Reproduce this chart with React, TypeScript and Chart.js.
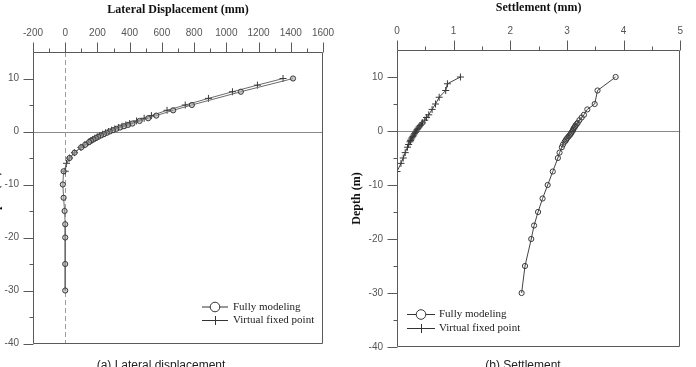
import React, { useEffect, useRef } from 'react';
import { Chart, registerables } from 'chart.js';

Chart.register(...registerables);

// ---------- data ----------
const fullDepths = [10, 7.5, 5, 4, 3, 2.5, 2, 1.5, 1.25, 1, 0.75, 0.5, 0.25, 0, -0.25, -0.5, -0.75, -1, -1.25, -1.5, -1.75, -2, -2.5, -3, -4, -5, -7.5, -10, -12.5, -15, -17.5, -20, -25, -30];
const virtualDepths = [10, 8.75, 7.5, 6.25, 5, 4, 3, 2.5, 2, 1.5, 1.25, 1, 0.75, 0.5, 0.25, 0, -0.25, -0.5, -0.75, -1, -1.25, -1.5, -1.75, -2, -2.5, -3, -4, -5, -6, -7.5];

const lateralFull = [1414, 1090, 786, 670, 565, 515, 462, 417, 390, 365, 340, 317, 296, 276, 258, 240, 222, 205, 190, 175, 160, 148, 124, 99, 58, 27, -10, -15, -10, -4, 0, 0, 0, 0];
const lateralVirtual = [1352, 1193, 1038, 889, 745, 632, 535, 490, 443, 400, 376, 352, 330, 308, 288, 268, 250, 232, 215, 199, 184, 170, 157, 145, 121, 97, 57, 27, 8, 0];

const settleFull = [3.86, 3.54, 3.49, 3.36, 3.3, 3.26, 3.22, 3.19, 3.17, 3.15, 3.14, 3.12, 3.11, 3.1, 3.08, 3.07, 3.05, 3.03, 3.01, 2.99, 2.98, 2.96, 2.93, 2.91, 2.87, 2.84, 2.75, 2.66, 2.57, 2.49, 2.42, 2.37, 2.26, 2.2];
const settleVirtual = [1.12, 0.89, 0.86, 0.745, 0.68, 0.62, 0.56, 0.52, 0.49, 0.45, 0.43, 0.41, 0.39, 0.37, 0.355, 0.34, 0.325, 0.31, 0.295, 0.28, 0.265, 0.25, 0.24, 0.23, 0.205, 0.185, 0.145, 0.11, 0.07, 0.0];

const seriesLabels = ['Fully modeling', 'Virtual fixed point'];

const lateralTicks = [-200, 0, 200, 400, 600, 800, 1000, 1200, 1400, 1600];
const lateralMinor = [-100, 100, 300, 500, 700, 900, 1100, 1300, 1500];
const settleTicks = [0, 1, 2, 3, 4, 5];
const settleMinor = [0.5, 1.5, 2.5, 3.5, 4.5];
const depthTicks = [10, 0, -10, -20, -30, -40];
const depthMinor = [5, -5, -15, -25, -35];

const SANS = '"Liberation Sans", Arial, Helvetica, sans-serif';
const SERIF = '"Liberation Serif", "Times New Roman", Times, serif';

type Decor = {
  xMajor: number[];
  xMinor: number[];
  yMajor: number[];
  yMinor: number[];
  dashedZero: boolean;
  legend: { x0: number; x1: number; y1: number; y2: number; tx: number; r: number };
};

function makeDecor(o: Decor) {
  return {
    id: 'decor',
    beforeDatasetsDraw(chart: any) {
      const { ctx, chartArea: a, scales } = chart;
      const xs = scales.x;
      const ys = scales.y;
      ctx.save();
      ctx.lineWidth = 1;
      ctx.strokeStyle = '#8a8a8a';
      const y0 = Math.round(ys.getPixelForValue(0)) + 0.5;
      ctx.beginPath();
      ctx.moveTo(a.left, y0);
      ctx.lineTo(a.right, y0);
      ctx.stroke();
      if (o.dashedZero) {
        const x0 = Math.round(xs.getPixelForValue(0)) + 0.5;
        ctx.strokeStyle = '#9a9a9a';
        ctx.setLineDash([5, 3]);
        ctx.beginPath();
        ctx.moveTo(x0, a.top);
        ctx.lineTo(x0, a.bottom);
        ctx.stroke();
        ctx.setLineDash([]);
      }
      ctx.restore();
    },
    afterDraw(chart: any) {
      const { ctx, chartArea: a, scales } = chart;
      const xs = scales.x;
      const ys = scales.y;
      ctx.save();
      ctx.lineWidth = 1;
      ctx.strokeStyle = '#5a5a5a';
      // frame
      const L = Math.round(a.left) + 0.5;
      const R = Math.round(a.right) - 0.5;
      const T = Math.round(a.top) + 0.5;
      const B = Math.round(a.bottom) - 0.5;
      ctx.beginPath();
      ctx.moveTo(L, T);
      ctx.lineTo(R, T);
      ctx.lineTo(R, B);
      ctx.lineTo(L, B);
      ctx.closePath();
      ctx.stroke();
      // top ticks
      ctx.beginPath();
      o.xMajor.forEach((v) => {
        const p = Math.round(xs.getPixelForValue(v)) + 0.5;
        ctx.moveTo(p, T);
        ctx.lineTo(p, T - 10);
      });
      o.xMinor.forEach((v) => {
        const p = Math.round(xs.getPixelForValue(v)) + 0.5;
        ctx.moveTo(p, T);
        ctx.lineTo(p, T - 4);
      });
      // left ticks
      o.yMajor.forEach((v) => {
        const p = Math.round(ys.getPixelForValue(v)) + 0.5;
        ctx.moveTo(L, p);
        ctx.lineTo(L - 10, p);
      });
      o.yMinor.forEach((v) => {
        const p = Math.round(ys.getPixelForValue(v)) + 0.5;
        ctx.moveTo(L, p);
        ctx.lineTo(L - 4, p);
      });
      ctx.stroke();

      // legend
      const lg = o.legend;
      const mid = (lg.x0 + lg.x1) / 2;
      ctx.strokeStyle = '#333';
      ctx.beginPath();
      ctx.moveTo(lg.x0, lg.y1 + 0.5);
      ctx.lineTo(lg.x1, lg.y1 + 0.5);
      ctx.moveTo(lg.x0, lg.y2 + 0.5);
      ctx.lineTo(lg.x1, lg.y2 + 0.5);
      ctx.stroke();
      ctx.fillStyle = '#ffffff';
      ctx.beginPath();
      ctx.arc(mid, lg.y1 + 0.5, lg.r, 0, Math.PI * 2);
      ctx.fill();
      ctx.stroke();
      ctx.beginPath();
      ctx.moveTo(mid + 0.5, lg.y2 - 4);
      ctx.lineTo(mid + 0.5, lg.y2 + 5);
      ctx.stroke();
      ctx.fillStyle = '#222';
      ctx.font = '11px ' + SERIF;
      ctx.textBaseline = 'middle';
      ctx.textAlign = 'left';
      const ds = chart.data.datasets;
      ctx.fillText(ds[0].label, lg.tx, lg.y1 + 0.5);
      ctx.fillText(ds[1].label, lg.tx, lg.y2 + 0.5);
      ctx.restore();
    },
  };
}

type ChartSpec = {
  width: number;
  xTitle: string;
  xMin: number;
  xMax: number;
  xTicks: number[];
  plotTop: number;
  plotBottom: number;
  plotRight: number;
  xTitlePad: number;
  yTitlePad: number;
  full: number[];
  virtual: number[];
  fullColor: string;
  fullFill: string;
  decor: Decor;
};

function buildConfig(s: ChartSpec): any {
  const tickFont = { family: SANS, size: 10 };
  return {
    type: 'scatter',
    data: {
      datasets: [
        {
          label: seriesLabels[0],
          data: fullDepths.map((d, i) => ({ x: s.full[i], y: d })),
          showLine: true,
          borderColor: s.fullColor,
          borderWidth: 1,
          pointStyle: 'circle',
          pointRadius: 2.6,
          pointBorderWidth: 1,
          pointBorderColor: '#3a3a3a',
          pointBackgroundColor: s.fullFill,
          tension: 0,
        },
        {
          label: seriesLabels[1],
          data: virtualDepths.map((d, i) => ({ x: s.virtual[i], y: d })),
          showLine: true,
          borderColor: s.fullColor,
          borderWidth: 1,
          pointStyle: 'cross',
          pointRadius: 3.5,
          pointBorderWidth: 1,
          pointBorderColor: '#3a3a3a',
          tension: 0,
        },
      ],
    },
    options: {
      responsive: false,
      animation: false,
      devicePixelRatio: 1,
      layout: {
        padding: { left: 0, top: 0, right: s.width - s.plotRight, bottom: 367 - s.plotBottom },
      },
      plugins: { legend: { display: false }, tooltip: { enabled: false } },
      scales: {
        x: {
          type: 'linear',
          position: 'top',
          min: s.xMin,
          max: s.xMax,
          afterBuildTicks: (sc: any) => {
            sc.ticks = s.xTicks.map((v) => ({ value: v }));
          },
          afterFit: (sc: any) => {
            sc.height = s.plotTop;
          },
          grid: { display: false, drawTicks: false },
          border: { display: false },
          ticks: {
            padding: 13,
            color: '#555',
            font: tickFont,
            maxRotation: 0,
            autoSkip: false,
            callback: (v: any) => String(v),
          },
          title: {
            display: true,
            text: s.xTitle,
            color: '#111',
            font: { family: SERIF, size: 12, weight: 'bold' },
            padding: { top: s.xTitlePad, bottom: 0 },
          },
        },
        y: {
          type: 'linear',
          position: 'left',
          min: -40,
          max: 15,
          afterBuildTicks: (sc: any) => {
            sc.ticks = depthTicks.map((v) => ({ value: v }));
          },
          afterFit: (sc: any) => {
            sc.width = 73;
          },
          grid: { display: false, drawTicks: false },
          border: { display: false },
          ticks: {
            padding: 14,
            color: '#555',
            font: tickFont,
            autoSkip: false,
            callback: (v: any) => String(v),
          },
          title: {
            display: true,
            text: 'Depth (m)',
            color: '#111',
            font: { family: SERIF, size: 12, weight: 'bold' },
            padding: { top: s.yTitlePad, bottom: 0 },
          },
        },
      },
    },
    plugins: [makeDecor(s.decor)],
  };
}

function DepthChart({ spec, left }: { spec: ChartSpec; left: number }) {
  const ref = useRef<HTMLCanvasElement | null>(null);
  useEffect(() => {
    if (!ref.current) return;
    const chart = new Chart(ref.current, buildConfig(spec));
    return () => chart.destroy();
  }, [spec]);
  return (
    <canvas
      ref={ref}
      width={spec.width}
      height={367}
      style={{ position: 'absolute', left, top: 0, width: spec.width, height: 367 }}
    />
  );
}

const lateralSpec: ChartSpec = {
  width: 388,
  xTitle: 'Lateral Displacement (mm)',
  xMin: -200,
  xMax: 1600,
  xTicks: lateralTicks,
  plotTop: 52,
  plotBottom: 343.5,
  plotRight: 363,
  xTitlePad: 2.8,
  yTitlePad: 28.8,
  full: lateralFull,
  virtual: lateralVirtual,
  fullColor: '#6a6a6a',
  fullFill: 'rgba(170,170,170,0.55)',
  decor: {
    xMajor: lateralTicks,
    xMinor: lateralMinor,
    yMajor: depthTicks,
    yMinor: depthMinor,
    dashedZero: true,
    legend: { x0: 242, x1: 268, y1: 306.5, y2: 320, tx: 273, r: 4.8 },
  },
};

const settleSpec: ChartSpec = {
  width: 372,
  xTitle: 'Settlement (mm)',
  xMin: 0,
  xMax: 5,
  xTicks: settleTicks,
  plotTop: 50,
  plotBottom: 347,
  plotRight: 368,
  xTitlePad: 0.5,
  yTitlePad: 25.8,
  full: settleFull,
  virtual: settleVirtual,
  fullColor: '#444',
  fullFill: 'rgba(255,255,255,0)',
  decor: {
    xMajor: settleTicks,
    xMinor: settleMinor,
    yMajor: depthTicks,
    yMinor: depthMinor,
    dashedZero: false,
    legend: { x0: 83, x1: 111, y1: 314, y2: 328, tx: 115, r: 4.8 },
  },
};

const captionStyle: React.CSSProperties = {
  position: 'absolute',
  top: 359,
  fontFamily: SANS,
  fontSize: 12,
  lineHeight: '12px',
  color: '#222',
  whiteSpace: 'nowrap',
  transform: 'translateX(-50%)',
};

export default function App() {
  return (
    <div
      style={{
        position: 'fixed',
        left: 0,
        top: 0,
        width: 696,
        height: 367,
        overflow: 'hidden',
        background: '#fff',
      }}
    >
      <DepthChart spec={lateralSpec} left={-40} />
      <DepthChart spec={settleSpec} left={324} />
      <div style={{ ...captionStyle, left: 161 }}>(a) Lateral displacement</div>
      <div style={{ ...captionStyle, left: 523 }}>(b) Settlement</div>
    </div>
  );
}
